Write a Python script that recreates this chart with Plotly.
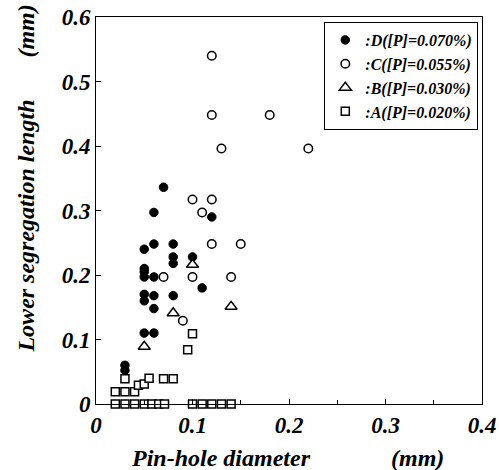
import plotly.graph_objects as go

# Series data (Pin-hole diameter mm, Lower segregation length mm)
d_x = [0.03, 0.03, 0.05, 0.05, 0.05, 0.05, 0.05, 0.05, 0.05, 0.06, 0.06, 0.06, 0.06, 0.06, 0.06,
       0.07, 0.08, 0.08, 0.08, 0.08, 0.10, 0.11, 0.12]
d_y = [0.06, 0.052, 0.24, 0.21, 0.205, 0.197, 0.17, 0.16, 0.11, 0.297, 0.248, 0.197, 0.168, 0.148, 0.11,
       0.336, 0.248, 0.228, 0.218, 0.168, 0.228, 0.18, 0.29]

c_x = [0.07, 0.09, 0.10, 0.10, 0.11, 0.12, 0.12, 0.12, 0.12, 0.13, 0.14, 0.15, 0.18, 0.22]
c_y = [0.197, 0.129, 0.317, 0.197, 0.297, 0.54, 0.448, 0.317, 0.248, 0.396, 0.197, 0.248, 0.448, 0.396]

b_x = [0.05, 0.08, 0.10, 0.14]
b_y = [0.089, 0.141, 0.216, 0.151]

a_x = [0.02, 0.03, 0.04, 0.05, 0.058, 0.065, 0.071, 0.10, 0.11, 0.12, 0.13, 0.14,
       0.02, 0.03, 0.04, 0.044, 0.05, 0.03, 0.055, 0.07, 0.08, 0.095, 0.10]
a_y = [0, 0, 0, 0, 0, 0, 0, 0, 0, 0, 0, 0,
       0.019, 0.019, 0.019, 0.029, 0.031, 0.039, 0.04, 0.039, 0.039, 0.084, 0.109]

series_names = [":D([P]=0.070%)", ":C([P]=0.055%)", ":B([P]=0.030%)", ":A([P]=0.020%)"]

x_ticks = [0, 0.1, 0.2, 0.3, 0.4]
x_tick_labels = ["0", "0.1", "0.2", "0.3", "0.4"]
y_ticks = [0, 0.1, 0.2, 0.3, 0.4, 0.5, 0.6]
y_tick_labels = ["0", "0.1", "0.2", "0.3", "0.4", "0.5", "0.6"]

FONT = "Liberation Serif"

fig = go.Figure()
fig.add_trace(go.Scatter(x=d_x, y=d_y, mode="markers", name=series_names[0], cliponaxis=False,
                         marker=dict(symbol="circle", size=8.5, color="black",
                                     line=dict(color="black", width=1))))
fig.add_trace(go.Scatter(x=c_x, y=c_y, mode="markers", name=series_names[1], cliponaxis=False,
                         marker=dict(symbol="circle", size=8.5, color="white",
                                     line=dict(color="black", width=1.5))))
fig.add_trace(go.Scatter(x=b_x, y=b_y, mode="markers", name=series_names[2], cliponaxis=False,
                         marker=dict(symbol="triangle-up", size=10.5, color="white",
                                     line=dict(color="black", width=1.5))))
fig.add_trace(go.Scatter(x=a_x, y=a_y, mode="markers", name=series_names[3], cliponaxis=False,
                         marker=dict(symbol="square", size=8, color="white",
                                     line=dict(color="black", width=1.5))))

L, R, T, B = 95.5, 481.7, 17.0, 404.0
W, H = 499, 470
PW, PH = R - L, B - T


def px(xp):
    return (xp - L) / PW


def py(yp):
    return (B - yp) / PH


tickfont = dict(family=FONT, size=23, color="black", weight="bold", style="italic")
titlefont = dict(family=FONT, size=24, color="black", weight="bold", style="italic")

fig.update_layout(
    width=W, height=H,
    margin=dict(l=L, r=W - R, t=T, b=H - B, pad=0, autoexpand=False),
    paper_bgcolor="white", plot_bgcolor="white",
    showlegend=True,
    legend=dict(x=px(478), y=py(22), xanchor="right", yanchor="top",
                bgcolor="white", bordercolor="black", borderwidth=1,
                font=dict(family=FONT, size=16, color="black", weight="bold", style="italic"),
                tracegroupgap=0, itemwidth=30),
    xaxis=dict(range=[0, 0.4], tickvals=x_ticks, ticktext=x_tick_labels, automargin=False,
               ticklabeloverflow="allow",
               showgrid=False, zeroline=False, showline=True, linecolor="black", linewidth=1,
               mirror=True, ticks="inside", ticklen=5, tickcolor="black", tickfont=tickfont,
               minor=dict(dtick=0.05, tick0=0, ticks="inside", ticklen=4, tickcolor="black", showgrid=False)),
    yaxis=dict(range=[0, 0.6], tickvals=y_ticks, ticktext=y_tick_labels, automargin=False,
               ticklabeloverflow="allow",
               showgrid=False, zeroline=False, showline=True, linecolor="black", linewidth=1,
               mirror=True, ticks="inside", ticklen=5, tickcolor="black", tickfont=tickfont),
    annotations=[
        dict(text="Pin-hole diameter", x=px(221), y=py(458), xref="paper", yref="paper",
             showarrow=False, font=titlefont, xanchor="center", yanchor="middle"),
        dict(text="(mm)", x=px(417), y=py(458), xref="paper", yref="paper",
             showarrow=False, font=titlefont, xanchor="center", yanchor="middle"),
        dict(text="Lower segregation length", x=px(25), y=py(226), xref="paper", yref="paper",
             showarrow=False, font=titlefont, textangle=-90, xanchor="center", yanchor="middle"),
        dict(text="(mm)", x=px(25), y=py(31), xref="paper", yref="paper",
             showarrow=False, font=titlefont, textangle=-90, xanchor="center", yanchor="middle"),
    ],
)

# Remove the default page margin so the 499x470 figure fills the window exactly
fig.write_html("out.html", config={"displayModeBar": False},
               post_script="document.body.style.margin='0';document.body.style.overflow='hidden';")
